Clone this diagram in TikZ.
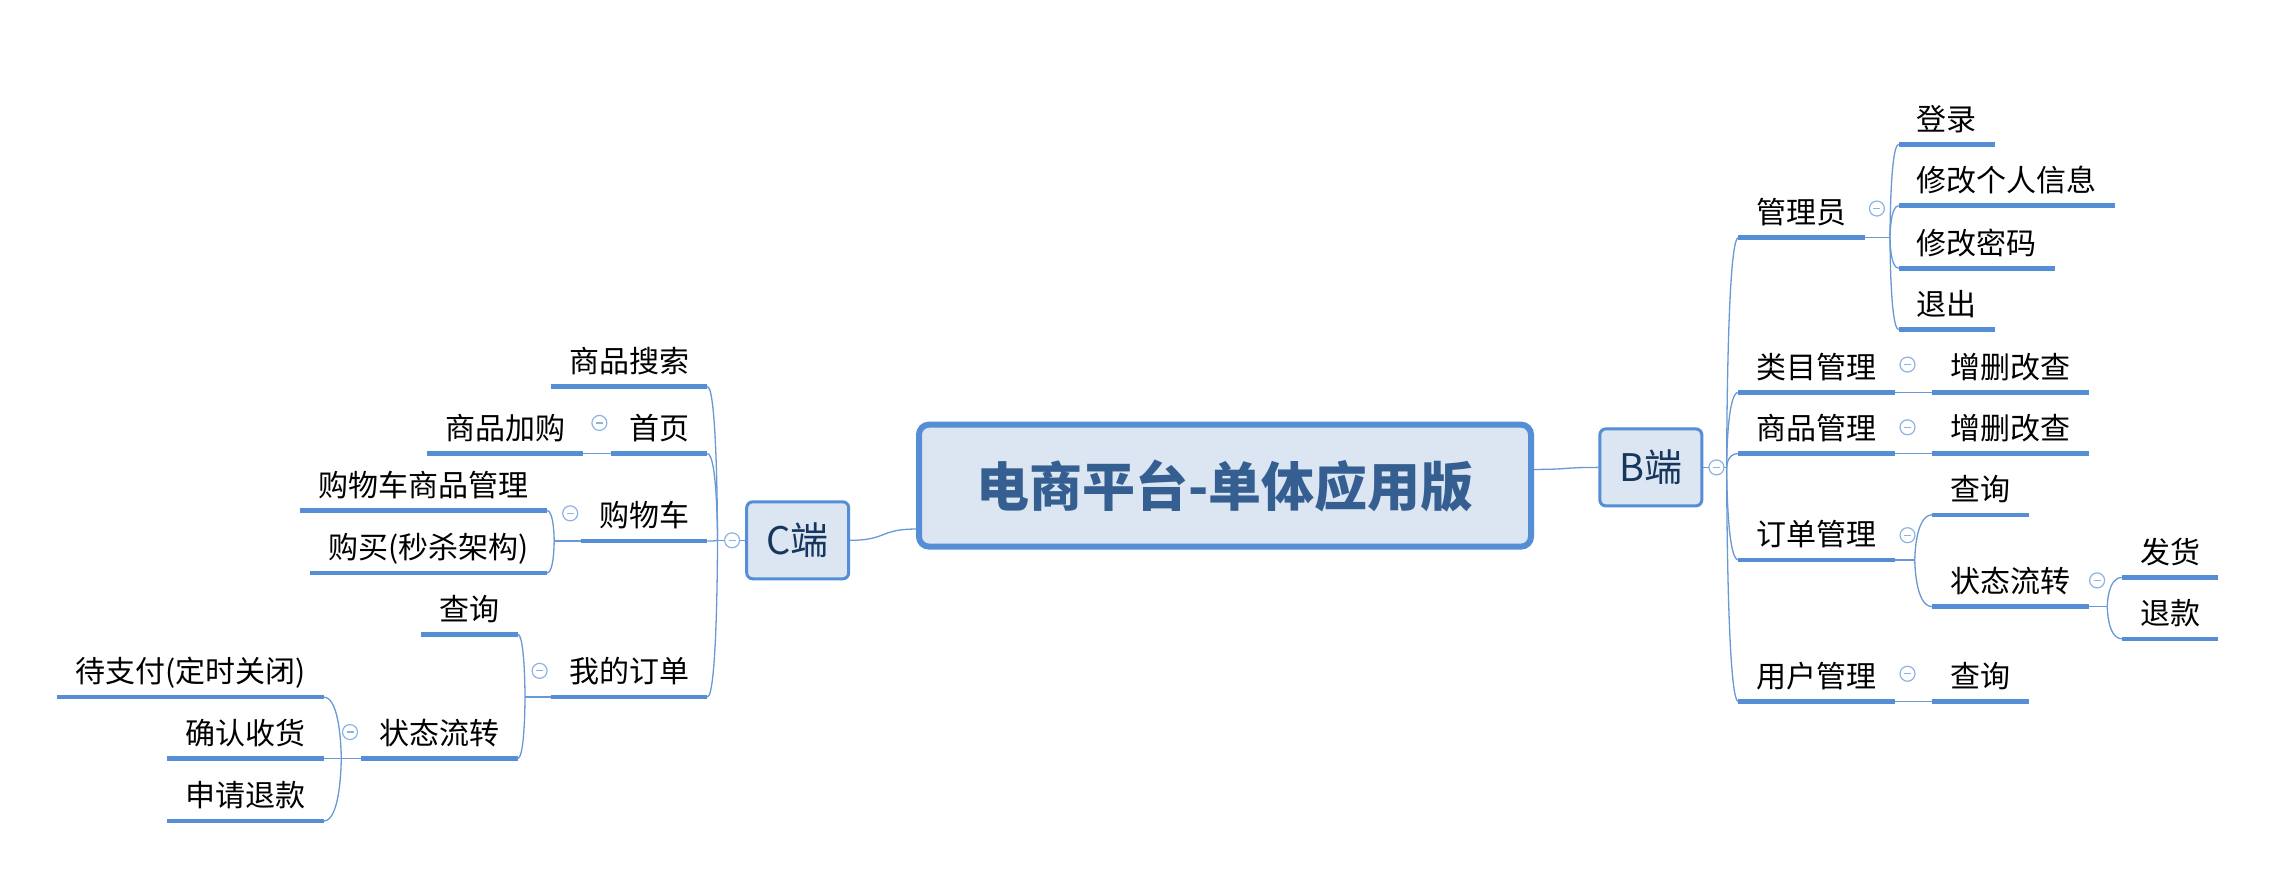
\documentclass[tikz,border=0pt]{standalone}
\usepackage{fontspec}
\setmainfont{Noto Sans CJK SC}
\definecolor{lineblue}{RGB}{85,142,213}
\definecolor{linkblue}{RGB}{104,152,214}
\definecolor{boxfill}{RGB}{220,230,242}
\definecolor{titleblue}{RGB}{54,95,145}
\definecolor{hubtext}{RGB}{23,54,93}
\definecolor{foldblue}{RGB}{141,179,226}
\begin{document}
\begin{tikzpicture}[x=1.4583pt, y=-1.4583pt,
  topic/.style={inner xsep=18pt, inner ysep=6pt, text height=24pt, text depth=8pt, font=\fontsize{30pt}{36pt}\selectfont},
  rt/.style={topic, anchor=south west},
  lt/.style={topic, anchor=south east},
  uline/.style={draw=lineblue, line width=4.5pt},
  link/.style={draw=linkblue, line width=1.3pt},
  fold/.style={circle, draw=foldblue, fill=white, line width=1.2pt, minimum size=15pt, inner sep=0pt,
    path picture={\draw[foldblue, line width=1.3pt] ([xshift=-3.5pt]path picture bounding box.center) -- ([xshift=3.5pt]path picture bounding box.center);}},
  hub/.style={draw=lineblue, line width=3pt, fill=boxfill, rounded corners=6pt, minimum width=102pt, minimum height=77pt, font=\fontsize{38pt}{44pt}\selectfont, text=hubtext},
  root/.style={draw=lineblue, line width=6pt, fill=boxfill, rounded corners=10pt, minimum width=612pt, minimum height=122pt, font=\fontsize{53pt}{60pt}\selectfont\bfseries, text=titleblue}]
\useasboundingbox (0,0) rectangle (1560,613.7);
\node[root] (root) at (840,333) {电商平台-单体应用版};
\node[hub] (bdu) at (1132,320.5) {B端};
\node[hub] (cdu) at (547,370.5) {C端};
% B端
\node[rt] (gly) at (1192,163) {管理员};
\node[rt] (dl) at (1302,99) {登录};
\node[rt] (xg) at (1302,141) {修改个人信息};
\node[rt] (mm) at (1302,184) {修改密码};
\node[rt] (tc) at (1302,226) {退出};
\node[rt] (lm) at (1192,269) {类目管理};
\node[rt] (lmc) at (1325,269) {增删改查};
\node[rt] (sp) at (1192,311) {商品管理};
\node[rt] (spc) at (1325,311) {增删改查};
\node[rt] (dd) at (1192,384) {订单管理};
\node[rt] (ddq) at (1325,353) {查询};
\node[rt] (ddz) at (1325,416) {状态流转};
\node[rt] (fh) at (1455,396) {发货};
\node[rt] (tk) at (1455,438) {退款};
\node[rt] (yh) at (1192,481) {用户管理};
\node[rt] (yhq) at (1325,481) {查询};
% C端
\node[lt] (ss) at (485,265) {商品搜索};
\node[lt] (sy) at (485,311) {首页};
\node[lt] (jg) at (400,311) {商品加购};
\node[lt] (gwc) at (485,371) {购物车};
\node[lt] (gwg) at (375,350) {购物车商品管理};
\node[lt] (gm) at (375,393) {购买(秒杀架构)};
\node[lt] (wd) at (485,478) {我的订单};
\node[lt] (wdq) at (355,435) {查询};
\node[lt] (wdz) at (355,520) {状态流转};
\node[lt] (dzf) at (222,478) {待支付(定时关闭)};
\node[lt] (qr) at (222,520) {确认收货};
\node[lt] (sq) at (222,563) {申请退款};
\foreach \n in {gly,dl,xg,mm,tc,lm,lmc,sp,spc,dd,ddq,ddz,fh,tk,yh,yhq,ss,sy,jg,gwc,gwg,gm,wd,wdq,wdz,dzf,qr,sq}
  \draw[uline] (\n.south west) -- (\n.south east);
% forks
\coordinate (bf) at (1184,320.5);
\coordinate (gf) at (1296,163);
\coordinate (ddf) at (1313,384);
\coordinate (zf) at (1445,416);
\coordinate (cf) at (492,370.5);
\coordinate (gwcf) at (380,371);
\coordinate (wdf) at (360,478);
\coordinate (wzf) at (234,520);
\draw[link] (root.3) .. controls +(25,0) and +(-25,0) .. (bdu.west);
\draw[link] (cdu.east) .. controls +(25,0) and +(-25,0) .. (root.188);
\draw[link] (bdu.east) -- (bf);
\foreach \ch in {gly,lm,sp,dd,yh}
  \draw[link] (bf) .. controls (bf) and (bf |- \ch.south west) .. (\ch.south west);
\draw[link] (gly.south east) -- (gf);
\foreach \ch in {dl,xg,mm,tc}
  \draw[link] (gf) .. controls (gf) and (gf |- \ch.south west) .. (\ch.south west);
\draw[link] (lm.south east) -- (lmc.south west);
\draw[link] (sp.south east) -- (spc.south west);
\draw[link] (yh.south east) -- (yhq.south west);
\draw[link] (dd.south east) -- (ddf);
\foreach \ch in {ddq,ddz}
  \draw[link] (ddf) .. controls (ddf) and (ddf |- \ch.south west) .. (\ch.south west);
\draw[link] (ddz.south east) -- (zf);
\foreach \ch in {fh,tk}
  \draw[link] (zf) .. controls (zf) and (zf |- \ch.south west) .. (\ch.south west);
\draw[link] (cdu.west) -- (cf);
\foreach \ch in {ss,sy,gwc,wd}
  \draw[link] (cf) .. controls (cf) and (cf |- \ch.south east) .. (\ch.south east);
\draw[link] (sy.south west) -- (jg.south east);
\draw[link] (gwc.south west) -- (gwcf);
\foreach \ch in {gwg,gm}
  \draw[link] (gwcf) .. controls (gwcf) and (gwcf |- \ch.south east) .. (\ch.south east);
\draw[link] (wd.south west) -- (wdf);
\foreach \ch in {wdq,wdz}
  \draw[link] (wdf) .. controls (wdf) and (wdf |- \ch.south east) .. (\ch.south east);
\draw[link] (wdz.south west) -- (wzf);
\foreach \ch in {dzf,qr,sq}
  \draw[link] (wzf) .. controls (wzf) and (wzf |- \ch.south east) .. (\ch.south east);
% fold marks
\node[fold] (bx) at (1177,320.5) {};
\node[fold] (glx) at (1287,143) {};
\node[fold] (lmx) at (1308,250) {};
\node[fold] (spx) at (1308,293) {};
\node[fold] (ddx) at (1308,367) {};
\node[fold] (zx) at (1438,398) {};
\node[fold] (yhx) at (1308,462) {};
\node[fold] (cx) at (502,370.5) {};
\node[fold] (syx) at (411,290) {};
\node[fold] (gwcx) at (391,352) {};
\node[fold] (wdx) at (370,460) {};
\node[fold] (wzx) at (240,502) {};
\end{tikzpicture}
\end{document}
